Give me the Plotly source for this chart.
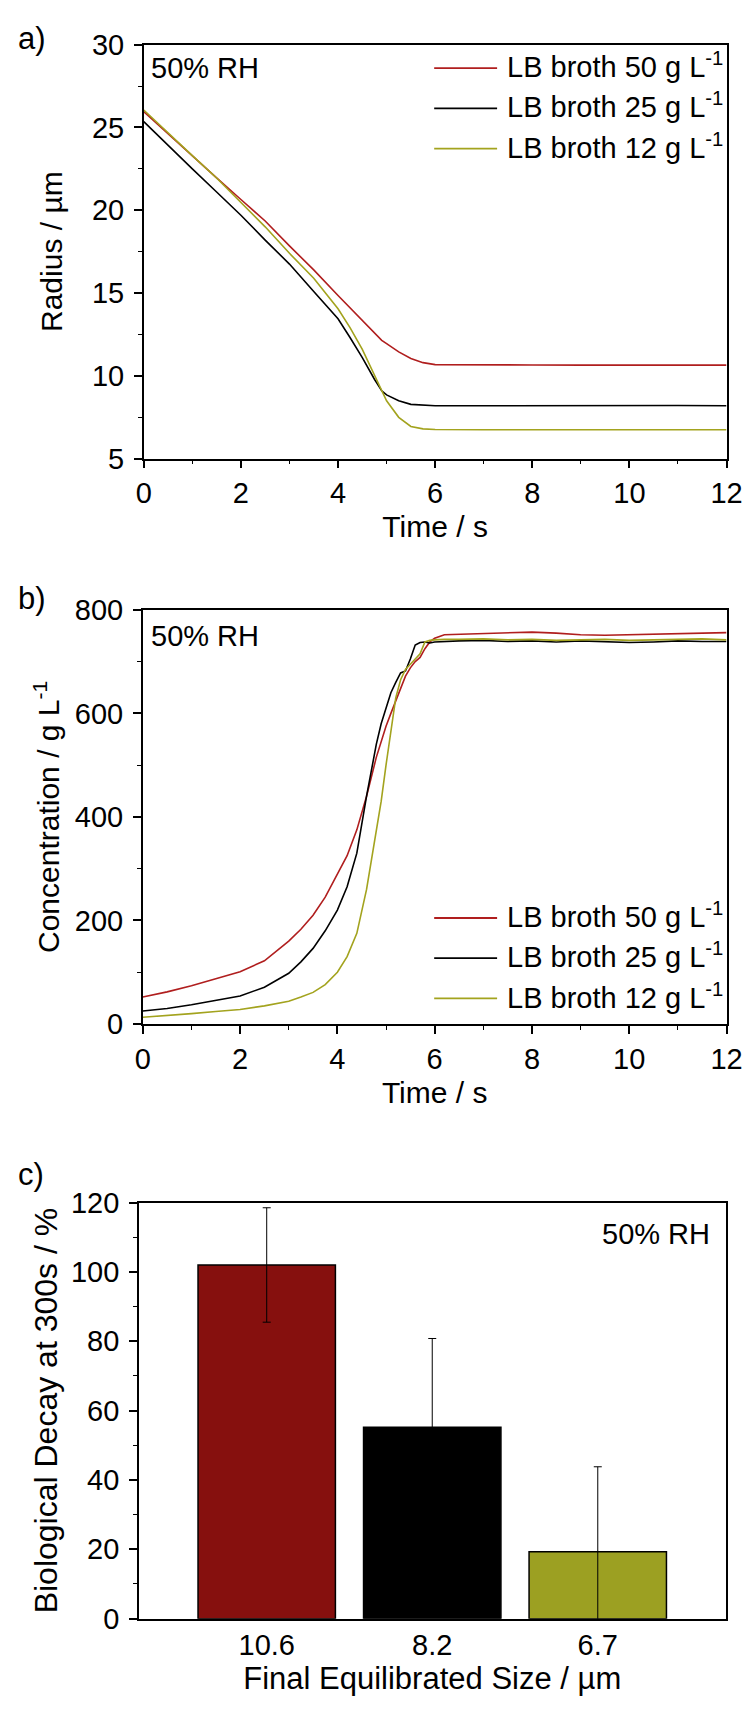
import plotly.graph_objects as go

W, H = 750, 1713
FONT = "Liberation Sans, Arial, sans-serif"

# ---------------- data ----------------
series_names = ["LB broth 50 g L<sup>-1</sup>", "LB broth 25 g L<sup>-1</sup>", "LB broth 12 g L<sup>-1</sup>"]
line_colors = ["#b01e1e", "#000000", "#a3a31e"]

# panel a: radius vs time
t_a = [0, 0.5, 1, 1.5, 2, 2.5, 3, 3.5, 4, 4.25, 4.5, 4.75, 4.9, 5.0, 5.25, 5.5, 5.75, 6, 7, 8, 9, 10, 11, 12]
radius_50 = [25.95, 24.6, 23.25, 21.95, 20.65, 19.35, 17.85, 16.4, 14.85, 14.1, 13.35, 12.6, 12.15, 11.95,
             11.45, 11.05, 10.8, 10.68, 10.65, 10.66, 10.65, 10.65, 10.66, 10.65]
radius_25 = [25.35, 23.9, 22.5, 21.1, 19.7, 18.2, 16.75, 15.1, 13.45, 12.3, 11.1, 9.8, 9.1, 8.85,
             8.5, 8.28, 8.22, 8.2, 8.2, 8.21, 8.2, 8.2, 8.21, 8.2]
radius_12 = [26.05, 24.65, 23.3, 21.95, 20.5, 19.0, 17.4, 15.9, 14.05, 12.9, 11.6, 10.1, 9.1, 8.5,
             7.5, 6.95, 6.8, 6.76, 6.75, 6.75, 6.75, 6.75, 6.75, 6.75]

# panel b: concentration vs time
t_b = [0, 0.5, 1, 1.5, 2, 2.5, 3, 3.25, 3.5, 3.75, 4, 4.2, 4.4, 4.6, 4.8, 4.9, 5.0, 5.1, 5.2, 5.3,
       5.4, 5.5, 5.6, 5.7, 5.8, 5.9, 6.0, 6.2, 6.5, 7, 7.5, 8, 8.5, 9, 9.5, 10, 10.5, 11, 11.5, 12]
conc_50 = [52, 62, 74, 87, 101, 122, 160, 183, 210, 245, 288, 325, 375, 440, 515, 545, 575, 600, 625, 650,
           672, 688, 700, 708, 725, 738, 745, 752, 753, 755, 756, 757, 755, 752, 751, 752, 753, 754, 755, 756]
conc_25 = [25, 30, 37, 45, 54, 71, 98, 120, 146, 180, 220, 265, 330, 440, 540, 580, 610, 640, 660, 678,
           682, 705, 732, 737, 738, 736, 738, 739, 740, 741, 739, 740, 738, 740, 739, 737, 738, 740, 739, 739]
conc_12 = [13, 16, 20, 24, 28, 35, 44, 52, 61, 76, 100, 130, 175, 260, 370, 430, 500, 570, 630, 665,
           685, 695, 705, 715, 738, 741, 742, 743, 743, 744, 742, 743, 741, 742, 743, 741, 742, 743, 744, 742]

# panel c: bars
size_labels = ["10.6", "8.2", "6.7"]
decay_values = [102.0, 55.2, 19.3]
decay_errors = [16.5, 25.6, 24.5]
bar_colors = ["#86100e", "#000000", "#9ca022"]

# ---------------- layout helpers ----------------
def px_x(x):
    return x / W

def px_y(y):
    return 1 - y / H

dom_a = dict(x=[px_x(132), px_x(734)], y=[px_y(443), px_y(21)])
dom_b = dict(x=[px_x(131), px_x(734)], y=[px_y(1019), px_y(597)])
dom_c = dict(x=[px_x(127), px_x(733)], y=[px_y(1625), px_y(1201)])

fig = go.Figure()

for name, col, ys in zip(series_names, line_colors, [radius_50, radius_25, radius_12]):
    fig.add_trace(go.Scatter(x=t_a, y=ys, mode="lines", name=name, showlegend=False,
                             line=dict(color=col, width=1.6), xaxis="x", yaxis="y"))
for name, col, ys in zip(series_names, line_colors, [conc_50, conc_25, conc_12]):
    fig.add_trace(go.Scatter(x=t_b, y=ys, mode="lines", name=name, showlegend=False,
                             line=dict(color=col, width=1.6), xaxis="x2", yaxis="y2"))

fig.add_trace(go.Bar(x=list(range(len(size_labels))), y=decay_values, width=0.83,
                     marker=dict(color=bar_colors, line=dict(color="#000000", width=1.5)),
                     error_y=dict(type="data", array=decay_errors, visible=True,
                                  color="#000000", thickness=1, width=4),
                     showlegend=False, xaxis="x3", yaxis="y3"))

tickfont = dict(family=FONT, size=29, color="#000")

def titlefont(size=30):
    return dict(family=FONT, size=size, color="#000")

def xaxis_common(domain, anchor, rng, dtick, minor_dtick, title):
    return dict(domain=domain, anchor=anchor, range=rng, dtick=dtick, tick0=0,
                showline=True, linecolor="#000", linewidth=1.5, mirror=True,
                ticks="outside", ticklen=8, tickwidth=1.5, tickcolor="#000",
                minor=dict(ticks="outside", ticklen=4, tickwidth=1.2, tickcolor="#000", dtick=minor_dtick),
                showgrid=False, zeroline=False, tickfont=tickfont, ticklabeloverflow="allow",
                title=dict(text=title, font=titlefont(), standoff=8))

def yaxis_common(domain, anchor, rng, dtick, minor_dtick, title, standoff, tsize=30):
    return dict(domain=domain, anchor=anchor, range=rng, dtick=dtick, tick0=0,
                showline=True, linecolor="#000", linewidth=1.5, mirror=True,
                ticks="outside", ticklen=8, tickwidth=1.5, tickcolor="#000",
                minor=dict(ticks="outside", ticklen=4, tickwidth=1.2, tickcolor="#000", dtick=minor_dtick),
                showgrid=False, zeroline=False, tickfont=tickfont, ticklabelstandoff=4,
                ticklabeloverflow="allow",
                title=dict(text=title, font=titlefont(tsize), standoff=standoff))

fig.update_layout(
    width=W, height=H,
    margin=dict(l=0, r=0, t=0, b=0),
    paper_bgcolor="white", plot_bgcolor="white",
    font=dict(family=FONT, color="#000"),
    xaxis=xaxis_common(dom_a["x"], "y", [0, 12], 2, 1, "Time / s"),
    yaxis=yaxis_common(dom_a["y"], "x", [5, 30], 5, 2.5, "Radius / µm", 20),
    xaxis2=xaxis_common(dom_b["x"], "y2", [0, 12], 2, 1, "Time / s"),
    yaxis2=yaxis_common(dom_b["y"], "x2", [0, 800], 200, 100, "Concentration / g L<sup>-1</sup>", 6),
    xaxis3=dict(domain=dom_c["x"], anchor="y3", range=[-0.772, 2.772],
                tickmode="array", tickvals=list(range(len(size_labels))), ticktext=size_labels,
                showline=True, linecolor="#000", linewidth=1.5, mirror=True, ticks="",
                showgrid=False, zeroline=False, tickfont=tickfont, ticklabeloverflow="allow",
                title=dict(text="Final Equilibrated Size / µm", font=titlefont(31), standoff=6)),
    yaxis3=yaxis_common(dom_c["y"], "x3", [0, 120], 20, 10, "Biological Decay at 300s / %", 4, 32),
)

# panel letters
for lbl, y in [("a)", 15), ("b)", 585), ("c)", 1172)]:
    fig.add_annotation(text=lbl, x=0, y=px_y(y), xref="paper", yref="paper",
                       xanchor="left", yanchor="middle", showarrow=False,
                       font=dict(family=FONT, size=31, color="#000"))

# "50% RH" labels
fig.add_annotation(text="50% RH", x=px_x(137), y=px_y(45), xref="paper", yref="paper",
                   xanchor="left", yanchor="middle", showarrow=False, font=dict(family=FONT, size=29, color="#000"))
fig.add_annotation(text="50% RH", x=px_x(137), y=px_y(624), xref="paper", yref="paper",
                   xanchor="left", yanchor="middle", showarrow=False, font=dict(family=FONT, size=29, color="#000"))
fig.add_annotation(text="50% RH", x=px_x(719), y=px_y(1233), xref="paper", yref="paper",
                   xanchor="right", yanchor="middle", showarrow=False, font=dict(family=FONT, size=29, color="#000"))

# custom legends (long line samples like the original)
for rows in ([45, 86, 127], [911, 952, 993]):
    for name, col, yrow in zip(series_names, line_colors, rows):
        fig.add_shape(type="line", xref="paper", yref="paper",
                      x0=px_x(432), x1=px_x(497), y0=px_y(yrow), y1=px_y(yrow),
                      line=dict(color=col, width=1.8))
        fig.add_annotation(text=name, x=px_x(505), y=px_y(yrow - 3), xref="paper", yref="paper",
                           xanchor="left", yanchor="middle", showarrow=False,
                           font=dict(family=FONT, size=29, color="#000"))

fig.write_html("out.html")
